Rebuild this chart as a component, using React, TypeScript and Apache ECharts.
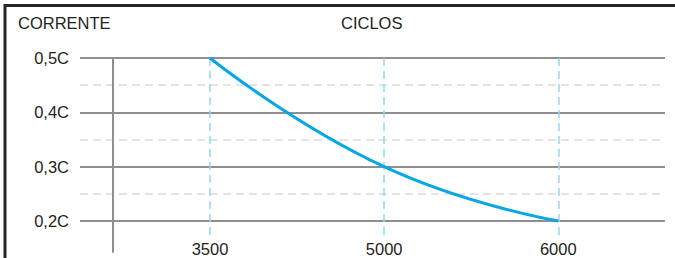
import React, { useEffect, useRef } from "react";
import * as echarts from "echarts";

// ---- data ----
const cycleLabels = ["3500", "5000", "6000"];
const currentValues = [0.5, 0.3, 0.2];
const currentTicks = [0.2, 0.3, 0.4, 0.5];
const currentMidTicks = [0.25, 0.35, 0.45];
const yAxisTitle = "CORRENTE";
const xAxisTitle = "CICLOS";

// ---- layout (pixels) ----
const W = 675;
const H = 258;
const GRID_LEFT = 80;
const GRID_RIGHT_EDGE = 665;
const GRID_TOP = 58;
const GRID_BOTTOM_EDGE = 252;
const FIRST_CAT_PX = 210;
const CAT_STEP_PX = 174.15;
const LOW_TICK_PX = 221; // pixel of lowest tick
const BLUE_BOTTOM_PX = 236;
const Y_AXIS_PX = 113;
const FONT_SIZE = 16.5;

const FONT = '"Liberation Sans", Arial, Helvetica, sans-serif';
const TEXT = "#231f20";
const GRAY = "#8f8f8f";
const BLUE = "#06a7e6";
const LIGHT_BLUE = "#92d7f4";
const DASH_GRAY = "#dcdcdc";

const fmtCurrent = (v: number) => v.toFixed(1).replace(".", ",") + "C";

export default function App() {
  const ref = useRef<HTMLDivElement>(null);

  useEffect(() => {
    if (!ref.current) return;
    const chart = echarts.init(ref.current, null, { renderer: "svg", width: W, height: H });

    const n = cycleLabels.length;
    const lastCatPx = FIRST_CAT_PX + (n - 1) * CAT_STEP_PX;
    const xMin = 1 - (FIRST_CAT_PX - GRID_LEFT) / CAT_STEP_PX;
    const xMax = n + (GRID_RIGHT_EDGE - lastCatPx) / CAT_STEP_PX;

    const yMax = Math.max(...currentTicks);
    const yLow = Math.min(...currentTicks);
    const pxPerUnit = (LOW_TICK_PX - GRID_TOP) / (yMax - yLow);
    const yMin = yMax - (GRID_BOTTOM_EDGE - GRID_TOP) / pxPerUnit;
    const blueBottom = yMax - (BLUE_BOTTOM_PX - GRID_TOP) / pxPerUnit;

    const catPositions = cycleLabels.map((_, i) => i + 1);

    chart.setOption({
      animation: false,
      grid: {
        left: GRID_LEFT,
        right: W - GRID_RIGHT_EDGE,
        top: GRID_TOP,
        bottom: H - GRID_BOTTOM_EDGE,
        containLabel: false,
      },
      xAxis: {
        type: "value",
        min: xMin,
        max: xMax,
        axisLine: { show: false },
        axisTick: { show: false, customValues: catPositions },
        splitLine: { show: false },
        axisLabel: {
          customValues: catPositions,
          formatter: (v: number) => cycleLabels[Math.round(v) - 1] ?? "",
          margin: -12,
          fontFamily: FONT,
          fontSize: FONT_SIZE,
          color: TEXT,
        },
      },
      yAxis: [
        {
          type: "value",
          min: yMin,
          max: yMax,
          offset: -(Y_AXIS_PX - GRID_LEFT),
          axisLine: { show: true, onZero: false, lineStyle: { color: GRAY, width: 2 } },
          axisTick: { show: false, customValues: currentTicks },
          splitLine: { show: true, lineStyle: { color: GRAY, width: 2 } },
          axisLabel: {
            customValues: currentTicks,
            formatter: (v: number) => fmtCurrent(v),
            margin: Y_AXIS_PX - 69,
            padding: [0, 0, 8, 0],
            fontFamily: FONT,
            fontSize: FONT_SIZE,
            color: TEXT,
          },
        },
        {
          type: "value",
          min: yMin,
          max: yMax,
          axisLine: { show: false },
          axisTick: { show: false, customValues: currentMidTicks },
          axisLabel: { show: false },
          splitLine: { show: true, lineStyle: { color: DASH_GRAY, width: 1.5, type: [8, 5] } },
        },
      ],
      series: [
        {
          type: "line",
          yAxisIndex: 0,
          data: [],
          silent: true,
          markLine: {
            silent: true,
            symbol: ["none", "none"],
            label: { show: false },
            lineStyle: { color: LIGHT_BLUE, width: 1.5, type: [8, 5] },
            data: catPositions.map((x) => [
              { coord: [x, yMax] },
              { coord: [x, blueBottom] },
            ]),
          },
        },
        {
          type: "line",
          yAxisIndex: 0,
          data: currentValues.map((v, i) => [catPositions[i], v]),
          smooth: true,
          symbol: "none",
          lineStyle: { color: BLUE, width: 3 },
          z: 5,
        },
      ],
      graphic: [
        {
          type: "polyline",
          shape: { points: [[5, H], [5, 5.5], [W, 5.5]] },
          style: { stroke: "#262626", lineWidth: 3, fill: "none" },
          silent: true,
        },
        {
          type: "text",
          x: 18,
          y: 23,
          style: {
            text: yAxisTitle,
            font: `${FONT_SIZE}px ${FONT}`,
            fill: TEXT,
            textAlign: "left",
            textVerticalAlign: "middle",
          },
        },
        {
          type: "text",
          x: 371.7,
          y: 23,
          style: {
            text: xAxisTitle,
            font: `${FONT_SIZE}px ${FONT}`,
            fill: TEXT,
            textAlign: "center",
            textVerticalAlign: "middle",
          },
        },
      ],
    });

    return () => chart.dispose();
  }, []);

  return (
    <div
      ref={ref}
      style={{ position: "absolute", left: 0, top: 0, width: W, height: H, background: "#fff" }}
    />
  );
}
